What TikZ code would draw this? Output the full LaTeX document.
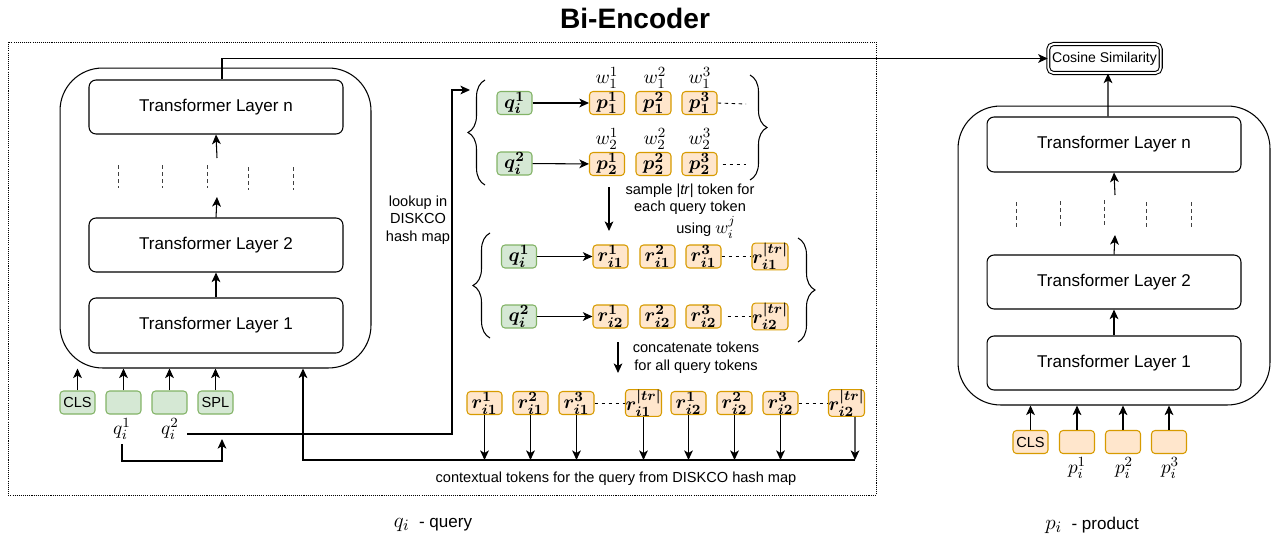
\documentclass[tikz,border=0pt]{standalone}
\usepackage[no-math]{fontspec}
\setmainfont{Liberation Sans}
\usepackage{amsmath}
\usetikzlibrary{arrows.meta,decorations.pathreplacing,calc}
\definecolor{gfill}{HTML}{D5E8D4}
\definecolor{gline}{HTML}{82B366}
\definecolor{ofill}{HTML}{FFE6CC}
\definecolor{oline}{HTML}{D79B00}
\begin{document}
\begin{tikzpicture}[x=0.02cm,y=-0.02cm,line width=0.6pt,
  arr/.style={-{Stealth[length=5.5pt,width=5pt,inset=1.5pt]}},
  tl/.style={draw,rounded corners=4pt,minimum width=5.08cm,minimum height=1.08cm,inner sep=0,font=\fontsize{9.7}{11}\selectfont},
  enc/.style={draw,rounded corners=0.85cm,inner sep=0},
  tok/.style={rounded corners=2pt,minimum width=0.7cm,minimum height=0.46cm,inner sep=0,font=\fontsize{8.3}{10}\selectfont},
  gtok/.style={tok,draw=gline,fill=gfill},
  otok/.style={tok,draw=oline,fill=ofill},
  mt/.style={font=\fontsize{10.8}{12}\selectfont\boldmath},
  lbl/.style={inner sep=0,font=\fontsize{11}{12}\selectfont},
  small/.style={inner sep=0,align=center,font=\fontsize{8.3}{10}\selectfont},
  dsh/.style={line width=0.5pt,dash pattern=on 2.5pt off 1.5pt,black!75},
  tdash/.style={line width=0.5pt,dash pattern=on 2pt off 2pt},
  lbrace/.style={decorate,decoration={brace,amplitude=0.34cm}},
]
\useasboundingbox (0,0) rectangle (1277,541);

% title
\node[inner sep=0,font=\fontsize{16}{18}\selectfont\bfseries] (title) at (635,18) {Bi-Encoder};

% dotted frame
\draw[line width=0.5pt,dash pattern=on 0.6pt off 0.6pt] (8,42) rectangle (876,495);

% ---------------- left encoder ----------------
\node[enc,minimum width=6.22cm,minimum height=6cm] (encL) at (215.5,218) {};
\node[tl] (tlnL) at (216,107) {Transformer Layer n};
\node[tl] (tl2L) at (216,245) {Transformer Layer 2};
\node[tl,minimum height=1.1cm] (tl1L) at (216,325.5) {Transformer Layer 1};
\foreach \x/\a/\b in {118/165/188,162/165/188,207/165/188,248/167/190,293/167/190}
  \draw[dsh] (\x,\a) -- (\x,\b);
\coordinate (dL1) at (217,197);
\coordinate (dL2) at (217,158);
\draw[arr] (tl1L) -- (tl2L);
\draw[arr] (tl2L.north) -- (dL1);
\draw[arr] (dL2) -- (tlnL.south);

% input tokens
\node[gtok] (clsL) at (77.5,402.5) {CLS};
\node[gtok] (tq1) at (123.5,402.5) {};
\node[gtok] (tq2) at (169.5,402.5) {};
\node[gtok] (spl) at (215.5,402.5) {SPL};
\foreach \n in {clsL,tq1,tq2,spl}
  \draw[arr] (\n.north) -- (\n.north |- encL.south);
\node[lbl] (lq1) at (122,429) {$q_i^1$};
\node[lbl] (lq2) at (170,429) {$q_i^2$};

\coordinate (mrgB) at (222,461);
\coordinate (mrg) at (222,439);
\draw[arr] (lq1.south |- 0,444) -- (lq1.south |- mrgB) -- (mrgB) -- (mrg);

\coordinate (lk1) at (187,434);
\coordinate (lk2) at (452,434);
\coordinate (lk3) at (452,90);
\coordinate (brIn) at (470,90);
\draw[arr] (lk1) -- (lk2) -- (lk3) -- (brIn);
\node[small] (lookup) at (418,220) {lookup in\\DISKCO\\hash map};

% to cosine
\node[draw,double,double distance=1.1pt,rounded corners=3pt,minimum width=2.25cm,minimum height=0.58cm,inner sep=0,font=\fontsize{8}{10}\selectfont] (cos) at (1104.5,58.5) {Cosine Similarity};
\draw[arr] ($(tlnL.north)+(6,0)$) |- (cos.west);

% ---------------- upper group ----------------
\draw[lbrace] (485,185) -- (485,80);
\draw[lbrace] (750,75) -- (750,180);
\node[gtok,mt] (uq1) at (514.5,103) {$q_i^1$};
\node[gtok,mt] (uq2) at (514.5,163.5) {$q_i^2$};
\node[otok,mt] (p11) at (607,103) {$p_1^1$};
\node[otok,mt] (p12) at (653.5,103) {$p_1^2$};
\node[otok,mt] (p13) at (699.5,103) {$p_1^3$};
\node[otok,mt] (p21) at (607,164) {$p_2^1$};
\node[otok,mt] (p22) at (653.5,164) {$p_2^2$};
\node[otok,mt] (p23) at (699.5,164) {$p_2^3$};
\node[lbl] (w11) at (607,78) {$w_1^1$};
\node[lbl] (w12) at (655,78) {$w_1^2$};
\node[lbl] (w13) at (700,78) {$w_1^3$};
\node[lbl] (w21) at (607,139) {$w_2^1$};
\node[lbl] (w22) at (655,139) {$w_2^2$};
\node[lbl] (w23) at (700,139) {$w_2^3$};
\draw[arr] (uq1) -- (p11);
\draw[arr] (uq2) -- (p21);
\coordinate (e1) at (746,104);
\coordinate (e2) at (746,164);
\draw[tdash] (p13.east) -- (e1);
\draw[tdash] ($(p23.east)+(5,0)$) -- (e2);

\node[small] (sample) at (690,211) {sample |\textit{tr}| token for\\each query token\\\hspace*{2.2em}using {\fontsize{10}{10}\selectfont$w_i^j$}};
\coordinate (sa1) at (609,187);
\coordinate (sa2) at (609,231);
\draw[arr] (sa1) -- (sa2);

% ---------------- lower group ----------------
\draw[lbrace] (490,338) -- (490,233);
\draw[lbrace] (798,238) -- (798,342);
\node[gtok,mt] (lq1b) at (519,256.5) {$q_i^1$};
\node[gtok,mt] (lq2b) at (519,316.5) {$q_i^2$};
\node[otok,mt] (ra1) at (610.5,256.5) {$r_{i1}^1$};
\node[otok,mt] (ra2) at (657.5,256.5) {$r_{i1}^2$};
\node[otok,mt] (ra3) at (703.5,256.5) {$r_{i1}^3$};
\node[otok,mt] (ra4) at (770,256.5) {$r_{i1}^{|tr|}$};
\node[otok,mt] (rb1) at (610.5,316.5) {$r_{i2}^1$};
\node[otok,mt] (rb2) at (657.5,316.5) {$r_{i2}^2$};
\node[otok,mt] (rb3) at (703.5,316.5) {$r_{i2}^3$};
\node[otok,mt] (rb4) at (770,316.5) {$r_{i2}^{|tr|}$};
\draw[arr] (lq1b) -- (ra1);
\draw[arr] (lq2b) -- (rb1);
\draw[tdash] (ra3) -- (ra4);
\draw[tdash] ($(rb3.east)+(6,0)$) -- (rb4);

\node[small] (concat) at (696,357.5) {concatenate tokens\\for all query tokens};
\coordinate (ca1) at (618,342);
\coordinate (ca2) at (618,373);
\draw[arr] (ca1) -- (ca2);

% ---------------- bottom row ----------------
\node[otok,mt] (c1) at (484.5,403) {$r_{i1}^1$};
\node[otok,mt] (c2) at (530.5,403) {$r_{i1}^2$};
\node[otok,mt] (c3) at (576.5,403) {$r_{i1}^3$};
\node[otok,mt] (c4) at (643.5,403) {$r_{i1}^{|tr|}$};
\node[otok,mt] (c5) at (688.5,403) {$r_{i2}^1$};
\node[otok,mt] (c6) at (734.5,403) {$r_{i2}^2$};
\node[otok,mt] (c7) at (780.5,403) {$r_{i2}^3$};
\node[otok,mt] (c8) at (846.5,403) {$r_{i2}^{|tr|}$};
\draw[tdash] (c3) -- (c4);
\draw[tdash] (c7) -- (c8);
\coordinate (busL) at (303,460);
\coordinate (busR) at (855,460);
\foreach \n in {c1,c2,c3,c4,c5,c6,c7}
  \draw[arr] (\n.south) -- (\n.south |- busL);
\draw[arr] ($(c8.south)+(8.5,0)$) -- (busR);
\draw[arr] (busR) -- (busL) -- (busL |- encL.south);
\node[small] (ctx) at (616,479) {contextual tokens for the query from DISKCO hash map};

\node[inner sep=0,font=\fontsize{9.7}{11}\selectfont] (qlab) at (433,525) {{\fontsize{13}{14}\selectfont$q_i$}\ \ - query};

% ---------------- right encoder ----------------
\node[enc,minimum width=6.24cm,minimum height=5.98cm] (encR) at (1114,255.5) {};
\node[tl,minimum height=1.1cm] (tlnR) at (1114,144.5) {Transformer Layer n};
\node[tl] (tl2R) at (1114,282) {Transformer Layer 2};
\node[tl] (tl1R) at (1114,363) {Transformer Layer 1};
\foreach \x/\a/\b in {1016/202/227,1060/201/226,1104/200/225,1146/202/228,1191/202/228}
  \draw[dsh] (\x,\a) -- (\x,\b);
\coordinate (dR1) at (1115,235);
\coordinate (dR2) at (1115,195);
\draw[arr] (tl1R) -- (tl2R);
\draw[arr] (tl2R.north) -- (dR1);
\draw[arr] (dR2) -- (tlnR.south);
\draw[arr] ($(tlnR.north)+(-6,0)$) -- ($(cos.south)+(3.5,0)$);

\node[otok] (clsR) at (1030.5,442) {CLS};
\node[otok] (tp1) at (1077,442) {};
\node[otok] (tp2) at (1123,442) {};
\node[otok] (tp3) at (1169,442) {};
\foreach \n in {clsR,tp1,tp2,tp3}
  \draw[arr] (\n.north) -- (\n.north |- encR.south);
\node[lbl] (lp1) at (1077,468) {$p_i^1$};
\node[lbl] (lp2) at (1124,468) {$p_i^2$};
\node[lbl] (lp3) at (1170,468) {$p_i^3$};

\node[inner sep=0,font=\fontsize{9.7}{11}\selectfont] (plab) at (1092,525) {{\fontsize{13}{14}\selectfont$p_i$}\ \ - product};
\end{tikzpicture}
\end{document}
